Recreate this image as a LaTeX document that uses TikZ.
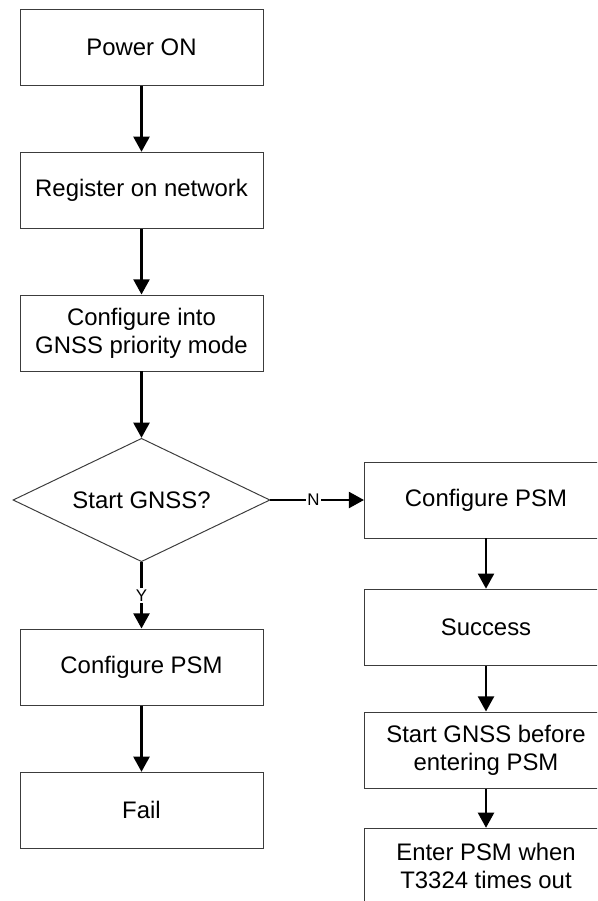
\documentclass[tikz,border=0pt]{standalone}
\usepackage{fontspec}
\setmainfont{Liberation Sans}
\usepackage{tikz}
\usetikzlibrary{shapes.geometric, arrows.meta, positioning}
\definecolor{boxline}{RGB}{60, 60, 60}

\tikzset{
  procbox/.style={draw=boxline, line width=0.7pt, minimum width=6.075cm, minimum height=1.9cm,
    align=center, font=\fontsize{17}{20}\selectfont},
  decision/.style={draw=boxline, line width=0.7pt, diamond, aspect=2.08, inner sep=0pt,
    minimum width=6.425cm, minimum height=3.085cm, font=\fontsize{17}{20}\selectfont},
  flow/.style={line width=1.8pt, -{Triangle[width=0.4cm, length=0.38cm]}},
  branch/.style={fill=white, inner sep=1pt, font=\fontsize{12}{14}\selectfont}
}

\begin{document}
\begin{tikzpicture}
  \useasboundingbox (0, 0) rectangle (14.925, -22.525);
  \clip (0, 0) rectangle (14.925, -22.525);

  % left column
  \node[procbox] (power) at (3.5375, -1.1875) {Power ON};
  \node[procbox] (register) at (3.5375, -4.7575) {Register on network};
  \node[procbox] (gnssmode) at (3.5375, -8.325) {Configure into\\GNSS priority mode};
  \node[decision] (startgnss) at (3.5375, -12.5) {Start GNSS?};
  \node[procbox] (psmleft) at (3.5375, -16.675) {Configure PSM};
  \node[procbox] (fail) at (3.5375, -20.2575) {Fail};

  % right column
  \node[procbox] (psmright) at (12.15, -12.5) {Configure PSM};
  \node[procbox] (success) at (12.15, -15.68) {Success};
  \node[procbox] (startbefore) at (12.15, -18.75) {Start GNSS before\\entering PSM};
  \node[procbox] (enterpsm) at (12.15, -21.6575) {Enter PSM when\\T3324 times out};

  \draw[flow] (power) -- (register);
  \draw[flow] (register) -- (gnssmode);
  \draw[flow] (gnssmode) -- (startgnss);
  \draw[flow] (startgnss) -- node[branch, pos=0.46] {N} (psmright);
  \draw[flow] (startgnss) -- node[branch, pos=0.5] {Y} (psmleft);
  \draw[flow] (psmleft) -- (fail);
  \draw[flow] (psmright) -- (success);
  \draw[flow] (success) -- (startbefore);
  \draw[flow] (startbefore) -- (enterpsm);
\end{tikzpicture}
\end{document}
